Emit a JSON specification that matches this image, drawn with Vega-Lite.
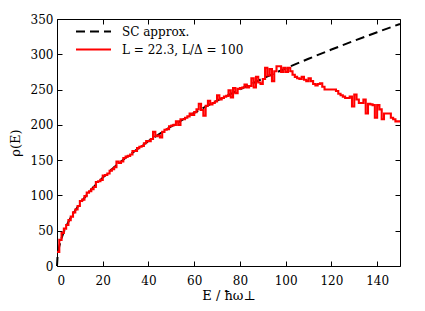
{
  "$schema": "https://vega.github.io/schema/vega-lite/v6.json",
  "width": 343,
  "height": 247,
  "autosize": {"type": "none"},
  "padding": {"left": 57, "top": 19, "right": 25, "bottom": 45},
  "config": {
    "font": "DejaVu Serif",
    "view": {"stroke": "#000000", "strokeWidth": 1},
    "axis": {"grid": false, "domain": false, "ticks": true, "tickColor": "#000000", "tickSize": -5, "tickWidth": 1,
      "labelFont": "DejaVu Serif", "labelFontSize": 12, "labelColor": "#000000",
      "titleFont": "DejaVu Serif", "titleFontSize": 13, "titleFontWeight": "normal", "titleColor": "#000000"},
    "legend": {"orient": "none", "legendX": 18, "legendY": 5, "symbolType": "stroke", "symbolSize": 1225,
      "symbolStrokeWidth": 2, "labelFont": "DejaVu Serif", "labelFontSize": 12, "labelColor": "#000000",
      "labelOffset": 10, "clipHeight": 15, "rowPadding": 3, "title": null}
  },
  "datasets": {
    "sc": [
      {"E": 0, "rho": 0, "series": "SC approx."},
      {"E": 0.25, "rho": 14, "series": "SC approx."},
      {"E": 0.5, "rho": 19.8, "series": "SC approx."},
      {"E": 1, "rho": 28, "series": "SC approx."},
      {"E": 2, "rho": 39.6, "series": "SC approx."},
      {"E": 3, "rho": 48.5, "series": "SC approx."},
      {"E": 5, "rho": 62.61, "series": "SC approx."},
      {"E": 7, "rho": 74.08, "series": "SC approx."},
      {"E": 10, "rho": 88.54, "series": "SC approx."},
      {"E": 15, "rho": 108.44, "series": "SC approx."},
      {"E": 20, "rho": 125.22, "series": "SC approx."},
      {"E": 25, "rho": 140, "series": "SC approx."},
      {"E": 30, "rho": 153.36, "series": "SC approx."},
      {"E": 40, "rho": 177.09, "series": "SC approx."},
      {"E": 50, "rho": 197.99, "series": "SC approx."},
      {"E": 60, "rho": 216.89, "series": "SC approx."},
      {"E": 70, "rho": 234.27, "series": "SC approx."},
      {"E": 80, "rho": 250.44, "series": "SC approx."},
      {"E": 90, "rho": 265.63, "series": "SC approx."},
      {"E": 100, "rho": 280, "series": "SC approx."},
      {"E": 110, "rho": 293.67, "series": "SC approx."},
      {"E": 120, "rho": 306.72, "series": "SC approx."},
      {"E": 130, "rho": 319.25, "series": "SC approx."},
      {"E": 140, "rho": 331.3, "series": "SC approx."},
      {"E": 150, "rho": 342.93, "series": "SC approx."}
    ],
    "hist": [
      {"E": 0, "rho": 20, "series": "L = 22.3, L/Δ = 100"},
      {"E": 1, "rho": 37, "series": "L = 22.3, L/Δ = 100"},
      {"E": 2, "rho": 47, "series": "L = 22.3, L/Δ = 100"},
      {"E": 3, "rho": 53, "series": "L = 22.3, L/Δ = 100"},
      {"E": 4, "rho": 58, "series": "L = 22.3, L/Δ = 100"},
      {"E": 5, "rho": 65, "series": "L = 22.3, L/Δ = 100"},
      {"E": 6, "rho": 70, "series": "L = 22.3, L/Δ = 100"},
      {"E": 7, "rho": 76, "series": "L = 22.3, L/Δ = 100"},
      {"E": 8, "rho": 80, "series": "L = 22.3, L/Δ = 100"},
      {"E": 9, "rho": 85, "series": "L = 22.3, L/Δ = 100"},
      {"E": 10, "rho": 92, "series": "L = 22.3, L/Δ = 100"},
      {"E": 11, "rho": 94, "series": "L = 22.3, L/Δ = 100"},
      {"E": 12, "rho": 99, "series": "L = 22.3, L/Δ = 100"},
      {"E": 13, "rho": 104, "series": "L = 22.3, L/Δ = 100"},
      {"E": 14, "rho": 106, "series": "L = 22.3, L/Δ = 100"},
      {"E": 15, "rho": 109, "series": "L = 22.3, L/Δ = 100"},
      {"E": 16, "rho": 112, "series": "L = 22.3, L/Δ = 100"},
      {"E": 17, "rho": 119, "series": "L = 22.3, L/Δ = 100"},
      {"E": 18, "rho": 120, "series": "L = 22.3, L/Δ = 100"},
      {"E": 19, "rho": 122, "series": "L = 22.3, L/Δ = 100"},
      {"E": 20, "rho": 128, "series": "L = 22.3, L/Δ = 100"},
      {"E": 21, "rho": 129, "series": "L = 22.3, L/Δ = 100"},
      {"E": 22, "rho": 131, "series": "L = 22.3, L/Δ = 100"},
      {"E": 23, "rho": 135, "series": "L = 22.3, L/Δ = 100"},
      {"E": 24, "rho": 137, "series": "L = 22.3, L/Δ = 100"},
      {"E": 25, "rho": 140, "series": "L = 22.3, L/Δ = 100"},
      {"E": 26, "rho": 148, "series": "L = 22.3, L/Δ = 100"},
      {"E": 27, "rho": 146, "series": "L = 22.3, L/Δ = 100"},
      {"E": 28, "rho": 148, "series": "L = 22.3, L/Δ = 100"},
      {"E": 29, "rho": 153, "series": "L = 22.3, L/Δ = 100"},
      {"E": 30, "rho": 155, "series": "L = 22.3, L/Δ = 100"},
      {"E": 31, "rho": 156, "series": "L = 22.3, L/Δ = 100"},
      {"E": 32, "rho": 158, "series": "L = 22.3, L/Δ = 100"},
      {"E": 33, "rho": 163, "series": "L = 22.3, L/Δ = 100"},
      {"E": 34, "rho": 163, "series": "L = 22.3, L/Δ = 100"},
      {"E": 35, "rho": 167, "series": "L = 22.3, L/Δ = 100"},
      {"E": 36, "rho": 169, "series": "L = 22.3, L/Δ = 100"},
      {"E": 37, "rho": 170, "series": "L = 22.3, L/Δ = 100"},
      {"E": 38, "rho": 174, "series": "L = 22.3, L/Δ = 100"},
      {"E": 39, "rho": 177, "series": "L = 22.3, L/Δ = 100"},
      {"E": 40, "rho": 177, "series": "L = 22.3, L/Δ = 100"},
      {"E": 41, "rho": 180, "series": "L = 22.3, L/Δ = 100"},
      {"E": 42, "rho": 190, "series": "L = 22.3, L/Δ = 100"},
      {"E": 43, "rho": 184, "series": "L = 22.3, L/Δ = 100"},
      {"E": 44, "rho": 185, "series": "L = 22.3, L/Δ = 100"},
      {"E": 45, "rho": 182, "series": "L = 22.3, L/Δ = 100"},
      {"E": 46, "rho": 190, "series": "L = 22.3, L/Δ = 100"},
      {"E": 47, "rho": 193, "series": "L = 22.3, L/Δ = 100"},
      {"E": 48, "rho": 194, "series": "L = 22.3, L/Δ = 100"},
      {"E": 49, "rho": 198, "series": "L = 22.3, L/Δ = 100"},
      {"E": 50, "rho": 199, "series": "L = 22.3, L/Δ = 100"},
      {"E": 51, "rho": 200, "series": "L = 22.3, L/Δ = 100"},
      {"E": 52, "rho": 205, "series": "L = 22.3, L/Δ = 100"},
      {"E": 53, "rho": 200, "series": "L = 22.3, L/Δ = 100"},
      {"E": 54, "rho": 208, "series": "L = 22.3, L/Δ = 100"},
      {"E": 55, "rho": 208, "series": "L = 22.3, L/Δ = 100"},
      {"E": 56, "rho": 210, "series": "L = 22.3, L/Δ = 100"},
      {"E": 57, "rho": 212, "series": "L = 22.3, L/Δ = 100"},
      {"E": 58, "rho": 216, "series": "L = 22.3, L/Δ = 100"},
      {"E": 59, "rho": 214, "series": "L = 22.3, L/Δ = 100"},
      {"E": 60, "rho": 218, "series": "L = 22.3, L/Δ = 100"},
      {"E": 61, "rho": 222, "series": "L = 22.3, L/Δ = 100"},
      {"E": 62, "rho": 230, "series": "L = 22.3, L/Δ = 100"},
      {"E": 63, "rho": 221, "series": "L = 22.3, L/Δ = 100"},
      {"E": 64, "rho": 213, "series": "L = 22.3, L/Δ = 100"},
      {"E": 65, "rho": 227, "series": "L = 22.3, L/Δ = 100"},
      {"E": 66, "rho": 234, "series": "L = 22.3, L/Δ = 100"},
      {"E": 67, "rho": 229, "series": "L = 22.3, L/Δ = 100"},
      {"E": 68, "rho": 231, "series": "L = 22.3, L/Δ = 100"},
      {"E": 69, "rho": 233, "series": "L = 22.3, L/Δ = 100"},
      {"E": 70, "rho": 242, "series": "L = 22.3, L/Δ = 100"},
      {"E": 71, "rho": 236, "series": "L = 22.3, L/Δ = 100"},
      {"E": 72, "rho": 238, "series": "L = 22.3, L/Δ = 100"},
      {"E": 73, "rho": 240, "series": "L = 22.3, L/Δ = 100"},
      {"E": 74, "rho": 241, "series": "L = 22.3, L/Δ = 100"},
      {"E": 75, "rho": 249, "series": "L = 22.3, L/Δ = 100"},
      {"E": 76, "rho": 239, "series": "L = 22.3, L/Δ = 100"},
      {"E": 77, "rho": 252, "series": "L = 22.3, L/Δ = 100"},
      {"E": 78, "rho": 245, "series": "L = 22.3, L/Δ = 100"},
      {"E": 79, "rho": 251, "series": "L = 22.3, L/Δ = 100"},
      {"E": 80, "rho": 252, "series": "L = 22.3, L/Δ = 100"},
      {"E": 81, "rho": 253, "series": "L = 22.3, L/Δ = 100"},
      {"E": 82, "rho": 257, "series": "L = 22.3, L/Δ = 100"},
      {"E": 83, "rho": 253, "series": "L = 22.3, L/Δ = 100"},
      {"E": 84, "rho": 255, "series": "L = 22.3, L/Δ = 100"},
      {"E": 85, "rho": 266, "series": "L = 22.3, L/Δ = 100"},
      {"E": 86, "rho": 253, "series": "L = 22.3, L/Δ = 100"},
      {"E": 87, "rho": 268, "series": "L = 22.3, L/Δ = 100"},
      {"E": 88, "rho": 260, "series": "L = 22.3, L/Δ = 100"},
      {"E": 89, "rho": 258, "series": "L = 22.3, L/Δ = 100"},
      {"E": 90, "rho": 265, "series": "L = 22.3, L/Δ = 100"},
      {"E": 91, "rho": 281, "series": "L = 22.3, L/Δ = 100"},
      {"E": 92, "rho": 270, "series": "L = 22.3, L/Δ = 100"},
      {"E": 93, "rho": 279, "series": "L = 22.3, L/Δ = 100"},
      {"E": 94, "rho": 262, "series": "L = 22.3, L/Δ = 100"},
      {"E": 95, "rho": 276, "series": "L = 22.3, L/Δ = 100"},
      {"E": 96, "rho": 283, "series": "L = 22.3, L/Δ = 100"},
      {"E": 97, "rho": 283, "series": "L = 22.3, L/Δ = 100"},
      {"E": 98, "rho": 275, "series": "L = 22.3, L/Δ = 100"},
      {"E": 99, "rho": 281, "series": "L = 22.3, L/Δ = 100"},
      {"E": 100, "rho": 275, "series": "L = 22.3, L/Δ = 100"},
      {"E": 101, "rho": 281, "series": "L = 22.3, L/Δ = 100"},
      {"E": 102, "rho": 276, "series": "L = 22.3, L/Δ = 100"},
      {"E": 103, "rho": 271, "series": "L = 22.3, L/Δ = 100"},
      {"E": 104, "rho": 268, "series": "L = 22.3, L/Δ = 100"},
      {"E": 105, "rho": 266, "series": "L = 22.3, L/Δ = 100"},
      {"E": 106, "rho": 265, "series": "L = 22.3, L/Δ = 100"},
      {"E": 107, "rho": 268, "series": "L = 22.3, L/Δ = 100"},
      {"E": 108, "rho": 264, "series": "L = 22.3, L/Δ = 100"},
      {"E": 109, "rho": 262, "series": "L = 22.3, L/Δ = 100"},
      {"E": 110, "rho": 266, "series": "L = 22.3, L/Δ = 100"},
      {"E": 111, "rho": 262, "series": "L = 22.3, L/Δ = 100"},
      {"E": 112, "rho": 258, "series": "L = 22.3, L/Δ = 100"},
      {"E": 113, "rho": 256, "series": "L = 22.3, L/Δ = 100"},
      {"E": 114, "rho": 258, "series": "L = 22.3, L/Δ = 100"},
      {"E": 115, "rho": 259, "series": "L = 22.3, L/Δ = 100"},
      {"E": 116, "rho": 254, "series": "L = 22.3, L/Δ = 100"},
      {"E": 117, "rho": 250, "series": "L = 22.3, L/Δ = 100"},
      {"E": 118, "rho": 250, "series": "L = 22.3, L/Δ = 100"},
      {"E": 119, "rho": 250, "series": "L = 22.3, L/Δ = 100"},
      {"E": 120, "rho": 250, "series": "L = 22.3, L/Δ = 100"},
      {"E": 121, "rho": 250, "series": "L = 22.3, L/Δ = 100"},
      {"E": 122, "rho": 248, "series": "L = 22.3, L/Δ = 100"},
      {"E": 123, "rho": 244, "series": "L = 22.3, L/Δ = 100"},
      {"E": 124, "rho": 242, "series": "L = 22.3, L/Δ = 100"},
      {"E": 125, "rho": 240, "series": "L = 22.3, L/Δ = 100"},
      {"E": 126, "rho": 238, "series": "L = 22.3, L/Δ = 100"},
      {"E": 127, "rho": 238, "series": "L = 22.3, L/Δ = 100"},
      {"E": 128, "rho": 240, "series": "L = 22.3, L/Δ = 100"},
      {"E": 129, "rho": 226, "series": "L = 22.3, L/Δ = 100"},
      {"E": 130, "rho": 243, "series": "L = 22.3, L/Δ = 100"},
      {"E": 131, "rho": 236, "series": "L = 22.3, L/Δ = 100"},
      {"E": 132, "rho": 231, "series": "L = 22.3, L/Δ = 100"},
      {"E": 133, "rho": 231, "series": "L = 22.3, L/Δ = 100"},
      {"E": 134, "rho": 236, "series": "L = 22.3, L/Δ = 100"},
      {"E": 135, "rho": 216, "series": "L = 22.3, L/Δ = 100"},
      {"E": 136, "rho": 230, "series": "L = 22.3, L/Δ = 100"},
      {"E": 137, "rho": 229, "series": "L = 22.3, L/Δ = 100"},
      {"E": 138, "rho": 228, "series": "L = 22.3, L/Δ = 100"},
      {"E": 139, "rho": 210, "series": "L = 22.3, L/Δ = 100"},
      {"E": 140, "rho": 228, "series": "L = 22.3, L/Δ = 100"},
      {"E": 141, "rho": 222, "series": "L = 22.3, L/Δ = 100"},
      {"E": 142, "rho": 208, "series": "L = 22.3, L/Δ = 100"},
      {"E": 143, "rho": 216, "series": "L = 22.3, L/Δ = 100"},
      {"E": 144, "rho": 216, "series": "L = 22.3, L/Δ = 100"},
      {"E": 145, "rho": 216, "series": "L = 22.3, L/Δ = 100"},
      {"E": 146, "rho": 210, "series": "L = 22.3, L/Δ = 100"},
      {"E": 147, "rho": 208, "series": "L = 22.3, L/Δ = 100"},
      {"E": 148, "rho": 205, "series": "L = 22.3, L/Δ = 100"},
      {"E": 149, "rho": 205, "series": "L = 22.3, L/Δ = 100"},
      {"E": 150, "rho": 205, "series": "L = 22.3, L/Δ = 100"}
    ]
  },
  "layer": [
    {
      "data": {"name": "sc"},
      "mark": {"type": "line", "strokeWidth": 2},
      "encoding": {
        "x": {"field": "E", "type": "quantitative", "scale": {"domain": [0, 150], "nice": false},
          "axis": {"orient": "bottom", "values": [0, 20, 40, 60, 80, 100, 120, 140], "labelPadding": 14, "title": "E / ħω⊥", "titlePadding": 3}},
        "y": {"field": "rho", "type": "quantitative", "scale": {"domain": [0, 350], "nice": false},
          "axis": {"orient": "left", "values": [0, 50, 100, 150, 200, 250, 300, 350], "labelPadding": 9, "title": "ρ(E)", "titlePadding": 8}},
        "color": {"field": "series", "type": "nominal",
          "scale": {"domain": ["SC approx.", "L = 22.3, L/Δ = 100"], "range": ["#000000", "#ff0000"]}, "legend": {"title": null}},
        "strokeDash": {"field": "series", "type": "nominal",
          "scale": {"domain": ["SC approx.", "L = 22.3, L/Δ = 100"], "range": [[9, 5], [1, 0]]}, "legend": {"title": null}}
      }
    },
    {
      "data": {"name": "hist"},
      "mark": {"type": "line", "interpolate": "step-after", "strokeWidth": 2.1},
      "encoding": {
        "x": {"field": "E", "type": "quantitative",
          "axis": {"orient": "top", "values": [0, 20, 40, 60, 80, 100, 120, 140], "labels": false, "title": null}},
        "y": {"field": "rho", "type": "quantitative",
          "axis": {"orient": "right", "values": [0, 50, 100, 150, 200, 250, 300, 350], "labels": false, "title": null}},
        "color": {"field": "series", "type": "nominal", "legend": {"title": null}},
        "strokeDash": {"field": "series", "type": "nominal", "legend": {"title": null}}
      }
    }
  ],
  "resolve": {"axis": {"x": "independent", "y": "independent"}}
}
